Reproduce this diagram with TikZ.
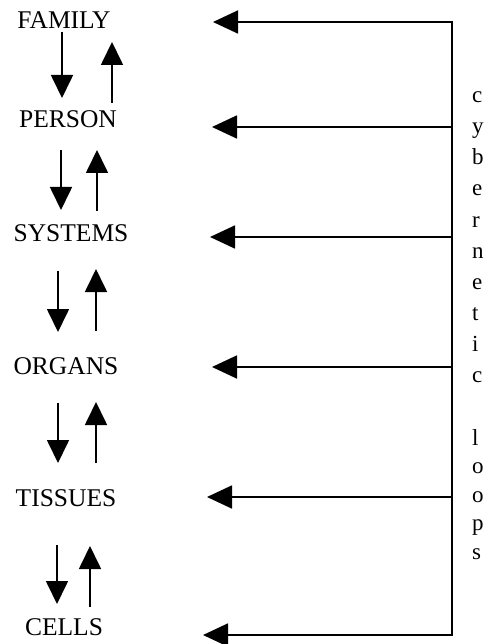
\documentclass[tikz,border=0pt]{standalone}
\usepackage{fontspec}
\setmainfont{Liberation Serif}
\usetikzlibrary{arrows.meta}
\begin{document}
\begin{tikzpicture}[x=1pt,y=-1pt,
  lbl/.style={font=\fontsize{25.5}{30}\selectfont, anchor=base, inner sep=0pt},
  vlet/.style={font=\fontsize{23}{27}\selectfont, anchor=base west, inner sep=0pt},
  varrow/.style={line width=1.7pt, -{Triangle[length=23pt,width=22pt]}},
  harrow/.style={line width=1.8pt, -{Triangle[length=25pt,width=23pt]}},
  trunk/.style={line width=2.2pt, line cap=rect}]
\useasboundingbox (0,0) rectangle (487,644);
% level labels
\node[lbl] (family)  at (64,29)  {FAMILY};
\node[lbl] (person)  at (68,128) {PERSON};
\node[lbl] (systems) at (71,241) {SYSTEMS};
\node[lbl] (organs)  at (66,374) {ORGANS};
\node[lbl] (tissues) at (66,506) {TISSUES};
\node[lbl] (cells)   at (64,635) {CELLS};
% vertical arrow pairs
\coordinate (d1a) at (62,32);  \coordinate (d1b) at (62,98);
\coordinate (u1a) at (112,103); \coordinate (u1b) at (112,42);
\coordinate (d2a) at (61,150); \coordinate (d2b) at (61,210);
\coordinate (u2a) at (97,211); \coordinate (u2b) at (97,150);
\coordinate (d3a) at (58,271); \coordinate (d3b) at (58,332);
\coordinate (u3a) at (96,331); \coordinate (u3b) at (96,269);
\coordinate (d4a) at (58,403); \coordinate (d4b) at (58,463);
\coordinate (u4a) at (96,463); \coordinate (u4b) at (96,402);
\coordinate (d5a) at (57,545); \coordinate (d5b) at (57,604);
\coordinate (u5a) at (90,607); \coordinate (u5b) at (90,546);
\foreach \i in {1,...,5}{
  \draw[varrow] (d\i a) -- (d\i b);
  \draw[varrow] (u\i a) -- (u\i b);
}
% trunk and feedback arrows
\coordinate (j1) at (452,22);  \coordinate (t1) at (213,22);
\coordinate (j2) at (452,127); \coordinate (t2) at (212,127);
\coordinate (j3) at (452,237); \coordinate (t3) at (210,237);
\coordinate (j4) at (452,367); \coordinate (t4) at (212,367);
\coordinate (j5) at (452,497); \coordinate (t5) at (207,497);
\coordinate (j6) at (452,635); \coordinate (t6) at (203,635);
\draw[trunk] (j1) -- (j6);
\foreach \i in {1,...,6}{
  \draw[harrow] (j\i) -- (t\i);
}
% vertical text
\foreach \ch [count=\k from 0] in {c,y,b,e,r,n,e,t,i,c}{
  \node[vlet] (w\k) at (472,{103+31*\k}) {\ch};
}
\foreach \ch [count=\k from 0] in {l,o,o,p,s}{
  \node[vlet] (x\k) at (472,{445+28.5*\k}) {\ch};
}
\end{tikzpicture}
\end{document}
